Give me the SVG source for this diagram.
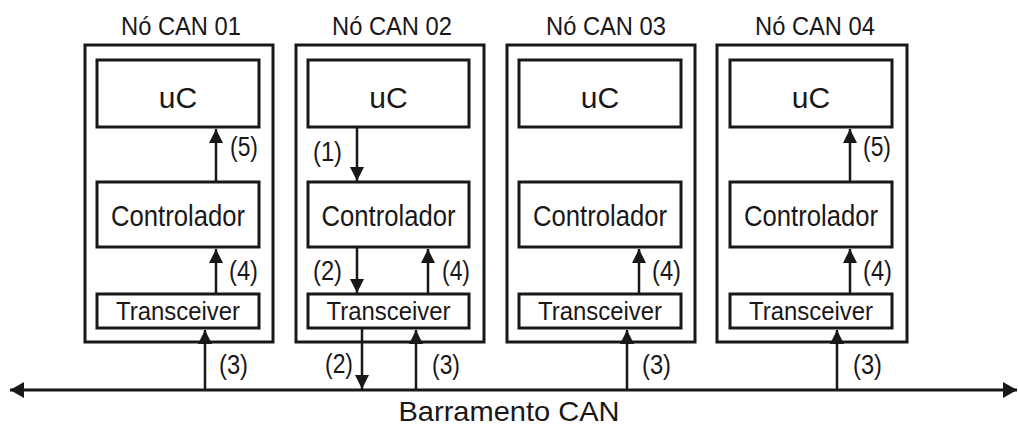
<svg xmlns="http://www.w3.org/2000/svg" width="1018" height="428" viewBox="0 0 1018 428">
<style>
.box{fill:#fff;stroke:#1a1718;stroke-width:3}
.in{fill:#fff;stroke:#1a1718;stroke-width:3}
.t{font-family:"Liberation Sans",Arial,sans-serif;fill:#1a1718}
.title{font-size:25.5px;text-anchor:middle}
.uc{font-size:30px;text-anchor:middle}
.ctl{font-size:30px;text-anchor:middle}
.trx{font-size:25.5px;text-anchor:middle}
.lbl{font-size:27px}
.bus{font-size:28px;text-anchor:middle}
.ln{stroke:#1a1718;stroke-width:2.5;fill:none;marker-end:url(#ah)}
</style>
<defs>
<marker id="ah" markerUnits="userSpaceOnUse" markerWidth="14" markerHeight="14" refX="14" refY="7" orient="auto">
<path d="M0,0 L14,7 L0,14 z" fill="#1a1718"/>
</marker>
<marker id="bh" markerUnits="userSpaceOnUse" markerWidth="14" markerHeight="16" refX="14" refY="8" orient="auto-start-reverse">
<path d="M0,0 L14,8 L0,16 z" fill="#1a1718"/>
</marker>
</defs>

<g id="node1">
<text class="t title" x="181" y="35" textLength="120" lengthAdjust="spacingAndGlyphs">Nó CAN 01</text>
<rect class="box" x="85" y="45" width="188" height="297"/>
<rect class="in" x="97" y="60" width="162" height="67"/>
<text class="t uc" x="178" y="108">uC</text>
<rect class="in" x="97" y="182" width="162" height="65"/>
<text class="t ctl" x="178" y="226" textLength="134" lengthAdjust="spacingAndGlyphs">Controlador</text>
<rect class="in" x="97" y="294" width="162" height="34"/>
<text class="t trx" x="178" y="320" textLength="124" lengthAdjust="spacingAndGlyphs">Transceiver</text>
</g>

<g id="node2">
<text class="t title" x="392" y="35" textLength="120" lengthAdjust="spacingAndGlyphs">Nó CAN 02</text>
<rect class="box" x="296" y="45" width="188" height="297"/>
<rect class="in" x="308" y="60" width="161" height="67"/>
<text class="t uc" x="388.5" y="108">uC</text>
<rect class="in" x="308" y="182" width="161" height="65"/>
<text class="t ctl" x="388.5" y="226" textLength="134" lengthAdjust="spacingAndGlyphs">Controlador</text>
<rect class="in" x="308" y="294" width="161" height="34"/>
<text class="t trx" x="388.5" y="320" textLength="124" lengthAdjust="spacingAndGlyphs">Transceiver</text>
</g>

<g id="node3">
<text class="t title" x="606" y="35" textLength="120" lengthAdjust="spacingAndGlyphs">Nó CAN 03</text>
<rect class="box" x="507" y="45" width="188" height="297"/>
<rect class="in" x="519" y="60" width="162" height="67"/>
<text class="t uc" x="600" y="108">uC</text>
<rect class="in" x="519" y="182" width="162" height="65"/>
<text class="t ctl" x="600" y="226" textLength="134" lengthAdjust="spacingAndGlyphs">Controlador</text>
<rect class="in" x="519" y="294" width="162" height="34"/>
<text class="t trx" x="600" y="320" textLength="124" lengthAdjust="spacingAndGlyphs">Transceiver</text>
</g>

<g id="node4">
<text class="t title" x="815" y="35" textLength="120" lengthAdjust="spacingAndGlyphs">Nó CAN 04</text>
<rect class="box" x="717" y="45" width="190" height="297"/>
<rect class="in" x="730" y="60" width="162" height="67"/>
<text class="t uc" x="811" y="108">uC</text>
<rect class="in" x="730" y="182" width="162" height="65"/>
<text class="t ctl" x="811" y="226" textLength="134" lengthAdjust="spacingAndGlyphs">Controlador</text>
<rect class="in" x="730" y="294" width="162" height="34"/>
<text class="t trx" x="811" y="320" textLength="124" lengthAdjust="spacingAndGlyphs">Transceiver</text>
</g>

<g id="bus">
<line x1="10" y1="390" x2="1017" y2="390" stroke="#1a1718" stroke-width="3" marker-start="url(#bh)" marker-end="url(#bh)"/>
<text class="t bus" x="509" y="421" textLength="221" lengthAdjust="spacingAndGlyphs">Barramento CAN</text>
</g>

<g id="connectors">
<line class="ln" x1="216" y1="182" x2="216" y2="129"/>
<line class="ln" x1="216" y1="294" x2="216" y2="249"/>
<line class="ln" x1="205" y1="390" x2="205" y2="330"/>
<line class="ln" x1="357" y1="127" x2="357" y2="181"/>
<line class="ln" x1="357" y1="247" x2="357" y2="293"/>
<line class="ln" x1="428" y1="294" x2="428" y2="249"/>
<line class="ln" x1="362" y1="328" x2="362" y2="389"/>
<line class="ln" x1="416" y1="390" x2="416" y2="330"/>
<line class="ln" x1="639" y1="294" x2="639" y2="249"/>
<line class="ln" x1="627" y1="390" x2="627" y2="330"/>
<line class="ln" x1="850" y1="182" x2="850" y2="129"/>
<line class="ln" x1="850" y1="294" x2="850" y2="249"/>
<line class="ln" x1="837" y1="390" x2="837" y2="330"/>
</g>

<g id="labels">
<text class="t lbl" x="230" y="156" textLength="28" lengthAdjust="spacingAndGlyphs">(5)</text>
<text class="t lbl" x="229" y="280" textLength="29" lengthAdjust="spacingAndGlyphs">(4)</text>
<text class="t lbl" x="219" y="374" textLength="29" lengthAdjust="spacingAndGlyphs">(3)</text>
<text class="t lbl" x="313" y="161" textLength="29" lengthAdjust="spacingAndGlyphs">(1)</text>
<text class="t lbl" x="313" y="280" textLength="29" lengthAdjust="spacingAndGlyphs">(2)</text>
<text class="t lbl" x="442" y="280" textLength="28" lengthAdjust="spacingAndGlyphs">(4)</text>
<text class="t lbl" x="325" y="373" textLength="28" lengthAdjust="spacingAndGlyphs">(2)</text>
<text class="t lbl" x="432" y="374" textLength="28" lengthAdjust="spacingAndGlyphs">(3)</text>
<text class="t lbl" x="652" y="280" textLength="29" lengthAdjust="spacingAndGlyphs">(4)</text>
<text class="t lbl" x="642" y="374" textLength="29" lengthAdjust="spacingAndGlyphs">(3)</text>
<text class="t lbl" x="863" y="156" textLength="28" lengthAdjust="spacingAndGlyphs">(5)</text>
<text class="t lbl" x="863" y="280" textLength="29" lengthAdjust="spacingAndGlyphs">(4)</text>
<text class="t lbl" x="853" y="374" textLength="29" lengthAdjust="spacingAndGlyphs">(3)</text>
</g>
</svg>
